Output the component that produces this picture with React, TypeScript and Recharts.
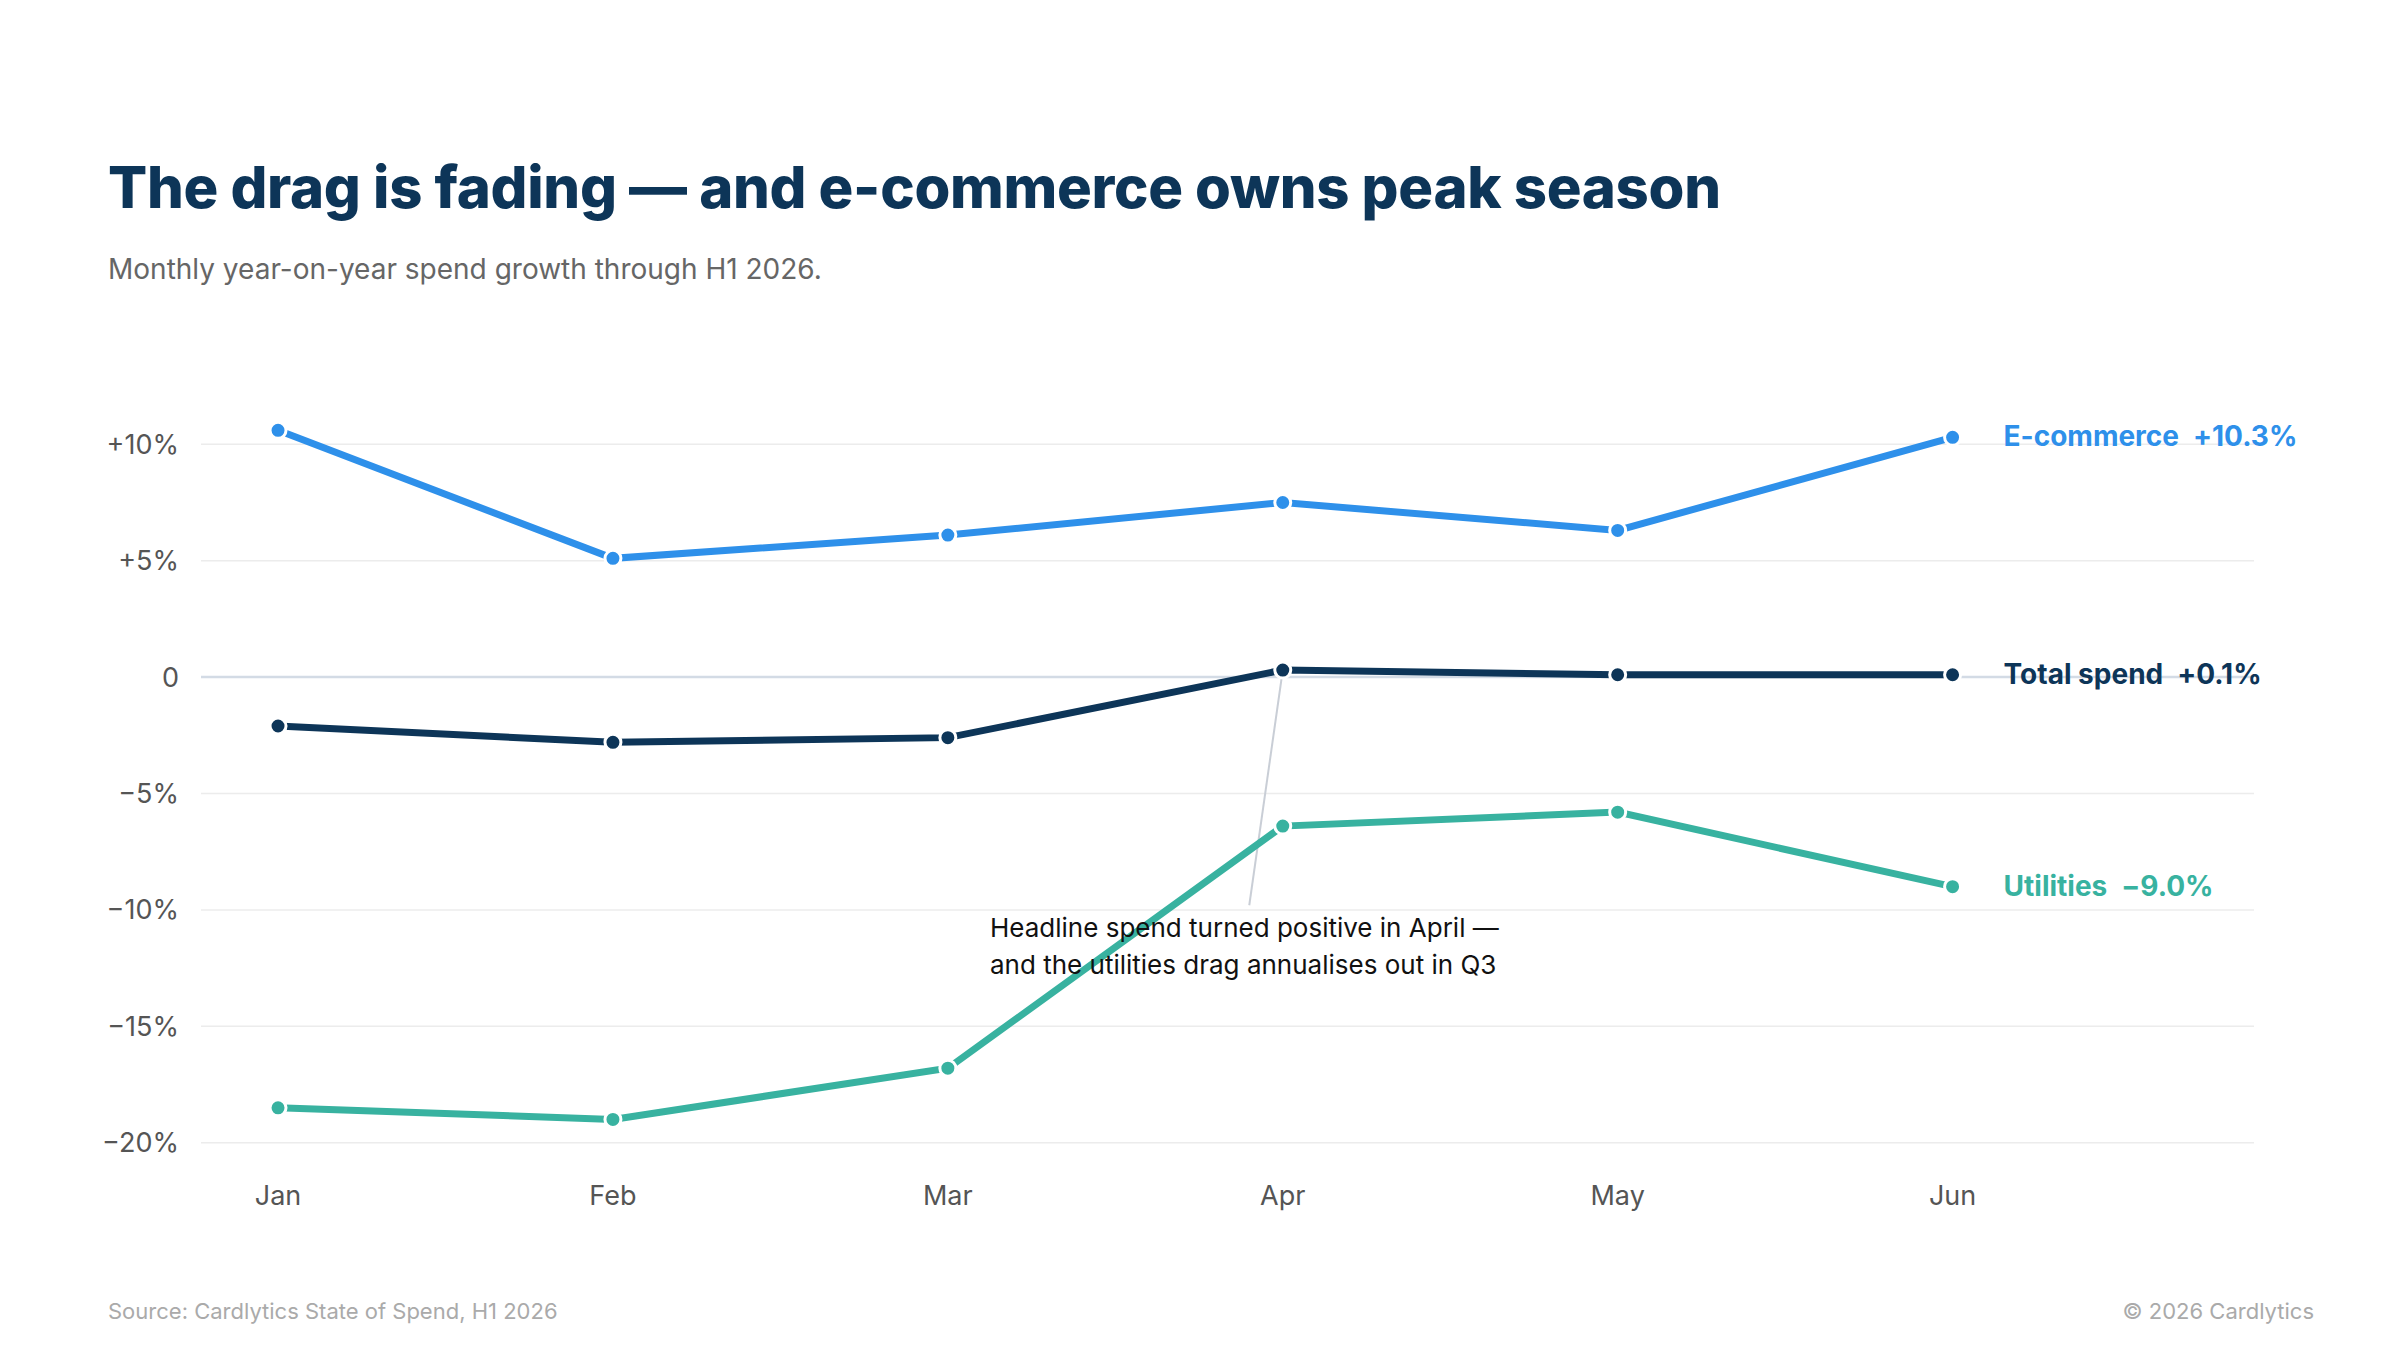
import React from 'react';
import { LineChart, Line, XAxis, YAxis, CartesianGrid, ReferenceLine } from 'recharts';

const months = ['Jan', 'Feb', 'Mar', 'Apr', 'May', 'Jun'];
const ecommerce = [10.6, 5.1, 6.1, 7.5, 6.3, 10.3];
const total = [-2.1, -2.8, -2.6, 0.3, 0.1, 0.1];
const utilities = [-18.5, -19.0, -16.8, -6.4, -5.8, -9.0];
const yTicks = [-20, -15, -10, -5, 0, 5, 10];

const data = months.map((m, i) => ({ x: i, ecommerce: ecommerce[i], total: total[i], utilities: utilities[i] }));

const FONT = 'Inter, "Noto Sans", sans-serif';

const endLabel = (name: string, value: string, color: string) => (props: any) => {
    if (props.index !== months.length - 1) return null;
    return (
        <text x={props.x + 51} y={props.y} dy={9} fill={color} fontSize={28} fontWeight={700} fontFamily={FONT}>
            {name}<tspan dx={14}>{value}</tspan>
        </text>
    );
};

const fmt = (v: number) => (v > 0 ? `+${v}%` : v === 0 ? '0' : `−${Math.abs(v)}%`);

export default function App() {
    const dot = (c: string) => ({ r: 8, fill: c, stroke: '#fff', strokeWidth: 3 });
    return (
        <div style={{ position: 'absolute', left: 0, top: 0, width: 2400, height: 1350, background: '#fff', fontFamily: FONT }}>
            <div style={{ position: 'absolute', left: 108, top: 152, fontSize: 58, fontWeight: 800, color: '#0D3558', letterSpacing: -0.3 }}>
                The drag is fading — and e-commerce owns peak season
            </div>
            <div style={{ position: 'absolute', left: 108, top: 252, fontSize: 28, color: '#666' }}>
                Monthly year-on-year spend growth through H1 2026.
            </div>
            <LineChart width={2400} height={1350} data={data} margin={{ top: 421, right: 146, left: 0, bottom: 0 }}
                style={{ position: 'absolute', left: 0, top: 0 }}>
                <CartesianGrid vertical={false} horizontalValues={yTicks} stroke="#ececec" strokeWidth={1.5} />
                <XAxis dataKey="x" type="number" domain={[-0.23, 5.9]} ticks={[0, 1, 2, 3, 4, 5]}
                    tickFormatter={(v: number) => months[v]} axisLine={false} tickLine={false} height={184}
                    tickMargin={14} tick={{ fontSize: 27, fill: '#555', fontFamily: FONT }} />
                <YAxis domain={[-21, 11]} ticks={yTicks} tickFormatter={fmt} axisLine={false} tickLine={false}
                    width={201} tickMargin={16} tick={{ fontSize: 27, fill: '#555', fontFamily: FONT }} />
                <ReferenceLine y={0} stroke="#d3dbe5" strokeWidth={2.5} />
                <ReferenceLine segment={[{ x: 3, y: 0.3 }, { x: 2.9, y: -9.8 }]} stroke="#c9ced6" strokeWidth={2} />
                <Line dataKey="ecommerce" stroke="#2E90EA" strokeWidth={7} dot={dot('#2E90EA')} isAnimationActive={false}
                    label={endLabel('E-commerce', '+10.3%', '#2E90EA')} />
                <Line dataKey="total" stroke="#0D3558" strokeWidth={7} dot={dot('#0D3558')} isAnimationActive={false}
                    label={endLabel('Total spend', '+0.1%', '#0D3558')} />
                <Line dataKey="utilities" stroke="#38B2A0" strokeWidth={7} dot={dot('#38B2A0')} isAnimationActive={false}
                    label={endLabel('Utilities', '−9.0%', '#38B2A0')} />
            </LineChart>
            <div style={{ position: 'absolute', left: 990, top: 909, fontSize: 26, lineHeight: '37px', color: '#111' }}>
                Headline spend turned positive in April —<br />and the utilities drag annualises out in Q3
            </div>
            <div style={{ position: 'absolute', left: 108, top: 1298, fontSize: 22, color: '#aaa' }}>
                Source: Cardlytics State of Spend, H1 2026
            </div>
            <div style={{ position: 'absolute', right: 86, top: 1298, fontSize: 22, color: '#aaa' }}>
                © 2026 Cardlytics
            </div>
        </div>
    );
}
